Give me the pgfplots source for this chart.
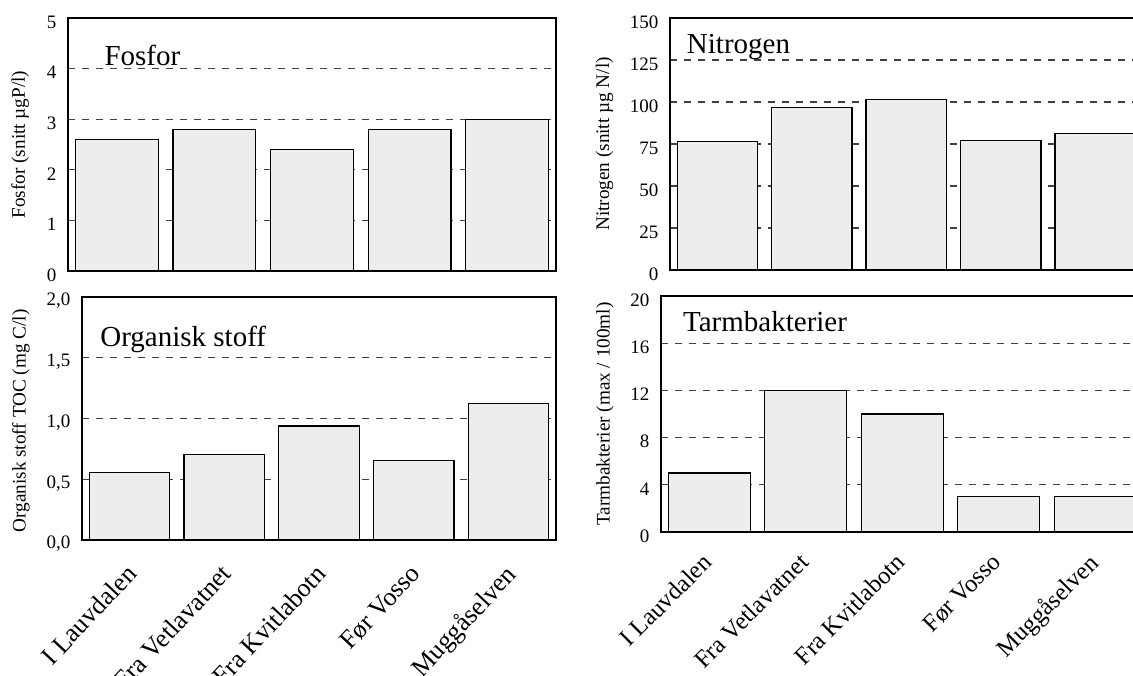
\documentclass[border=0pt]{standalone}
\usepackage{fontspec}
\setmainfont{Liberation Serif}
\usepackage{pgfplots}
\pgfplotsset{compat=1.18}
\pgfplotsset{
  common/.style={
    scale only axis, anchor=south west,
    xmin=-0.5, xmax=4.5, ymin=0,
    xtick={0,1,2,3,4},
    ymajorgrids,
    grid style={dash pattern=on 3.5pt off 3.5pt, black!75, line width=0.65pt},
    major tick length=0pt,
    axis line style={line width=0.6pt},
    /pgf/number format/assume math mode=true,
    yticklabel style={font=\fontsize{9.5}{11}\selectfont, xshift=-2.3pt, yshift=-2pt},
    ylabel style={font=\fontsize{9.6}{11}\selectfont, anchor=center},
  },
  topx/.style={xticklabels={}},
  botx/.style={
    xticklabels={I Lauvdalen, Fra Vetlavatnet, Fra Kvitlabotn, Før Vosso, Muggåselven},
  },
  mybar/.style={ybar, bar width=0.85, bar shift=0pt, fill=black!7, draw=black, line width=0.6pt},
}
\begin{document}
\begin{tikzpicture}
\useasboundingbox (0,0) rectangle (566.5pt,337.5pt);
\clip (0,0) rectangle (566.5pt,337.5pt);
% Fosfor
\begin{axis}[common, topx, at={(34pt,202pt)}, width=244pt, height=126.5pt,
  ymax=5, ytick={0,1,2,3,4,5},
  ylabel={Fosfor (snitt µgP/l)},
  ylabel style={at={(axis description cs:-0.098,0.5)}}]
\addplot[mybar] coordinates {(0,2.6) (1,2.8) (2,2.4) (3,2.8) (4,3.0)};
\node[anchor=base west, inner sep=0pt, font=\fontsize{14.5}{16}\selectfont] at (axis description cs:0.074,0.814) {Fosfor};
\end{axis}
% Nitrogen
\begin{axis}[common, topx, at={(335pt,202.5pt)}, width=236.25pt, height=126pt,
  ymax=150, ytick={0,25,50,75,100,125,150},
  ylabel={Nitrogen (snitt µg N/l)},
  ylabel style={at={(axis description cs:-0.1386,0.5)}}]
\addplot[mybar] coordinates {(0,76.5) (1,96.5) (2,101.7) (3,77.3) (4,81.2)};
\node[anchor=base west, inner sep=0pt, font=\fontsize{14.5}{16}\selectfont] at (axis description cs:0.035,0.86) {Nitrogen};
\end{axis}
% Organisk stoff
\begin{axis}[common, botx, at={(41pt,67.5pt)}, width=237pt, height=121.5pt,
  ymax=2, ytick={0,0.5,1,1.5,2},
  yticklabel style={/pgf/number format/.cd, fixed, fixed zerofill, precision=1, use comma},
  xticklabel style={font=\fontsize{13}{15}\selectfont, xshift=-2.5pt, yshift=-6.5pt, rotate=47, anchor=north east},
  ylabel={Organisk stoff TOC (mg C/l)},
  ylabel style={at={(axis description cs:-0.1287,0.49)}}]
\addplot[mybar] coordinates {(0,0.553) (1,0.707) (2,0.939) (3,0.657) (4,1.123)};
\node[anchor=base west, inner sep=0pt, font=\fontsize{14.5}{16}\selectfont] at (axis description cs:0.038,0.795) {Organisk stoff};
\end{axis}
% Tarmbakterier
\begin{axis}[common, botx, at={(330.5pt,71.5pt)}, width=241.25pt, height=118pt,
  ymax=20, ytick={0,4,8,12,16,20},
  xticklabel style={font=\fontsize{12.3}{14}\selectfont, xshift=-4pt, yshift=-5pt, rotate=45, anchor=north east},
  ylabel={Tarmbakterier (max / 100ml)},
  ylabel style={at={(axis description cs:-0.116,0.5)}}]
\addplot[mybar] coordinates {(0,5) (1,12) (2,10) (3,3) (4,3)};
\node[anchor=base west, inner sep=0pt, font=\fontsize{14.5}{16}\selectfont] at (axis description cs:0.045,0.849) {Tarmbakterier};
\end{axis}
\end{tikzpicture}
\end{document}
